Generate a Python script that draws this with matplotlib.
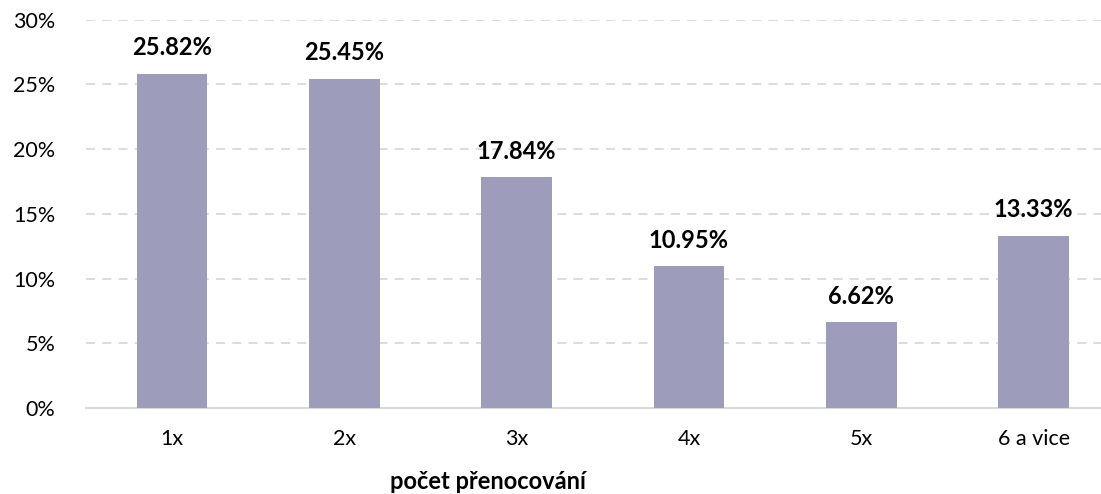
import matplotlib.pyplot as plt
from matplotlib.ticker import PercentFormatter

plt.rcParams["font.family"] = ["Lato", "DejaVu Sans"]

categories = ["1x", "2x", "3x", "4x", "5x", "6 a vice"]
shares = [25.82, 25.45, 17.84, 10.95, 6.62, 13.33]

fig = plt.figure(figsize=(11.01, 4.94), dpi=100)
ax = fig.add_axes([0.078, 0.174, 0.939, 0.786])

x = range(len(categories))
ax.bar(x, shares, width=0.41, color="#9d9cba", zorder=3)

# popisky hodnot nad sloupci
for xi, v in zip(x, shares):
    ax.text(xi, v + 2.0, f"{v:.2f}%", ha="center", va="center",
            fontsize=17, fontweight="bold", color="black")

ax.set_xlim(-0.5, len(categories) - 0.5)
ax.set_ylim(0, 30)
ax.set_yticks(range(0, 31, 5))
ax.yaxis.set_major_formatter(PercentFormatter(decimals=0))
ax.set_xticks(list(x))
ax.set_xticklabels(categories)
ax.tick_params(axis="both", length=0, labelsize=15.5, colors="black")
ax.tick_params(axis="x", pad=15)
ax.tick_params(axis="y", pad=22)

ax.grid(axis="y", color="#d9d9d9", linestyle=(0, (5, 4)), linewidth=1.3, zorder=0)
for side in ["top", "right", "left"]:
    ax.spines[side].set_visible(False)
ax.spines["bottom"].set_color("#d9d9d9")
ax.spines["bottom"].set_linewidth(1.5)

ax.set_xlabel("počet přenocování", fontsize=17, fontweight="bold", va="center")
ax.xaxis.set_label_coords(0.389, -0.19)

fig.savefig("out.png", dpi=100)
